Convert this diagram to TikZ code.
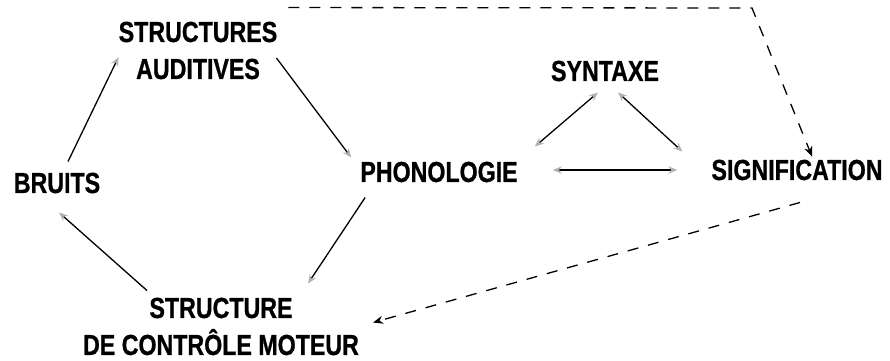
\documentclass[tikz,border=0pt]{standalone}
\usepackage{fontspec}
\setmainfont[FakeStretch=0.8,BoldFeatures={FakeBold=0.8}]{Liberation Sans}
\usetikzlibrary{arrows.meta}
\begin{document}
\begin{tikzpicture}[x=1pt,y=-1pt,
  lbl/.style={inner sep=0pt,align=center,font=\fontsize{29}{37}\selectfont\bfseries},
  gtip/.tip={Stealth[length=9pt,width=7.5pt,color=gray!60]},
  arr/.style={line width=1.3pt,-gtip},
  darr/.style={line width=1.3pt,gtip-gtip},
  dasharr/.style={line width=1.3pt,dash pattern=on 11pt off 10pt,-{Stealth[length=10pt,width=8pt]}}]
\useasboundingbox (0,0) rectangle (890,360);
\node[lbl] (sa) at (198,50.5) {STRUCTURES\\AUDITIVES};
\node[lbl] (br) at (57,183) {BRUITS};
\node[lbl] (ph) at (439,172) {PHONOLOGIE};
\node[lbl] (sy) at (605,71) {SYNTAXE};
\node[lbl] (si) at (797,170) {SIGNIFICATION};
\node[lbl] (sc) at (221,326.5) {STRUCTURE\\DE CONTRÔLE MOTEUR};
\coordinate (corner) at (752,8);
\draw[arr] ([shift={(11,-11)}]br.north) -- ([shift={(0,6.5)}]sa.west);
\draw[arr] ([shift={(-1,7.5)}]sa.east) -- ([shift={(-9,-4)}]ph.north west);
\draw[arr] ([shift={(5,15)}]ph.south west) -- ([shift={(87,-14)}]sc.north);
\draw[arr] ([shift={(-74,-7)}]sc.north) -- ([shift={(2,19)}]br.south);
\draw[darr] ([shift={(-7,11)}]sy.south) -- ([shift={(17,-15)}]ph.north east);
\draw[darr] ([shift={(13,11)}]sy.south) -- ([shift={(-29,-8)}]si.north west);
\draw[darr] ([shift={(35,-2)}]ph.east) -- ([shift={(-34,0)}]si.west);
\draw[dasharr] ([shift={(11,-14)}]sa.north east) -- (corner) -- ([shift={(15,-3)}]si.north);
\draw[dasharr] ([shift={(3,22)}]si.south) -- ([shift={(14,-4)}]sc.east);
\end{tikzpicture}
\end{document}
